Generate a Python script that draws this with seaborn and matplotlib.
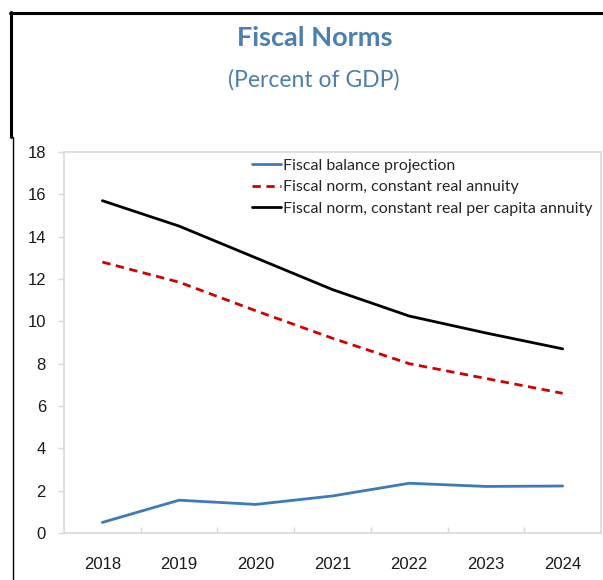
import matplotlib
matplotlib.use("Agg")
import matplotlib.pyplot as plt
from matplotlib.lines import Line2D
import seaborn as sns
import pandas as pd

years = ["2018", "2019", "2020", "2021", "2022", "2023", "2024"]
fiscal_balance = [0.5, 1.55, 1.35, 1.75, 2.35, 2.2, 2.22]
norm_real_annuity = [12.8, 11.85, 10.5, 9.2, 8.0, 7.3, 6.6]
norm_per_capita = [15.7, 14.5, 13.0, 11.5, 10.25, 9.45, 8.7]
series_names = [
    "Fiscal balance projection",
    "Fiscal norm, constant real annuity",
    "Fiscal norm, constant real per capita annuity",
]

df = pd.DataFrame({
    "year": years * 3,
    "value": fiscal_balance + norm_real_annuity + norm_per_capita,
    "series": [s for s in series_names for _ in years],
})

sns.set_theme(style="white")
plt.rcParams["font.family"] = ["Liberation Sans", "DejaVu Sans"]

fig = plt.figure(figsize=(6.03, 5.80), dpi=100)
ax = fig.add_axes([64 / 603, 1 - 533 / 580, (601 - 64) / 603, (533 - 152) / 580])

colors = {series_names[0]: "#3d7ab8", series_names[1]: "#d00000", series_names[2]: "#000000"}
dashes = {series_names[0]: "", series_names[1]: (3, 2), series_names[2]: ""}

sns.lineplot(data=df, x="year", y="value", hue="series", style="series",
             palette=colors, dashes=dashes, linewidth=2.0, ax=ax, legend=False)

ax.set_xlim(-0.5, len(years) - 0.5)
ax.set_ylim(0, 18)
ax.set_yticks(range(0, 19, 2))
ax.set_xticks(range(len(years)))
ax.set_xticklabels(years)
ax.set_xticks([i + 0.5 for i in range(len(years) - 1)], minor=True)
ax.set_xlabel("")
ax.set_ylabel("")

for sp in ax.spines.values():
    sp.set_color("#d9d9d9")
    sp.set_linewidth(1.2)

ax.tick_params(axis="y", which="major", left=True, length=4, width=1, color="#d9d9d9",
               labelsize=12, labelcolor="#1a1a1a", pad=9)
ax.tick_params(axis="x", which="major", bottom=False, labelsize=12, labelcolor="#1a1a1a", pad=11)
ax.tick_params(axis="x", which="minor", bottom=True, length=4, width=1, color="#d9d9d9",
               direction="in")

handles = [Line2D([], [], color=colors[s], linewidth=2.0,
                  linestyle=(0, dashes[s]) if dashes[s] else "-") for s in series_names]
ax.legend(handles, series_names, loc="upper left", bbox_to_anchor=(0.33, 1.012),
          frameon=False, handlelength=1.8, handletextpad=0.1, labelspacing=0.45,
          borderaxespad=0.3, prop={"family": "Lato", "size": 11.5})

fig.text(0.522, 1 - 38 / 580, "Fiscal Norms", ha="center", va="center",
         family="Lato", fontweight="bold", fontsize=19.5, color="#4a7fb0")
fig.text(0.521, 1 - 80 / 580, "(Percent of GDP)", ha="center", va="center",
         family="Lato", fontsize=16.5, color="#4a7fb0")

# outer frame
fig.add_artist(Line2D([10 / 603, 1.0], [1 - 13 / 580, 1 - 13 / 580], color="black",
                      linewidth=2.2, transform=fig.transFigure))
fig.add_artist(Line2D([11 / 603, 11 / 603], [1 - 12 / 580, 1 - 137 / 580], color="black",
                      linewidth=2.2, transform=fig.transFigure))
fig.add_artist(Line2D([12.5 / 603, 12.5 / 603], [1 - 137 / 580, 0], color="black",
                      linewidth=1.0, transform=fig.transFigure))

fig.savefig("out.png", dpi=100)
